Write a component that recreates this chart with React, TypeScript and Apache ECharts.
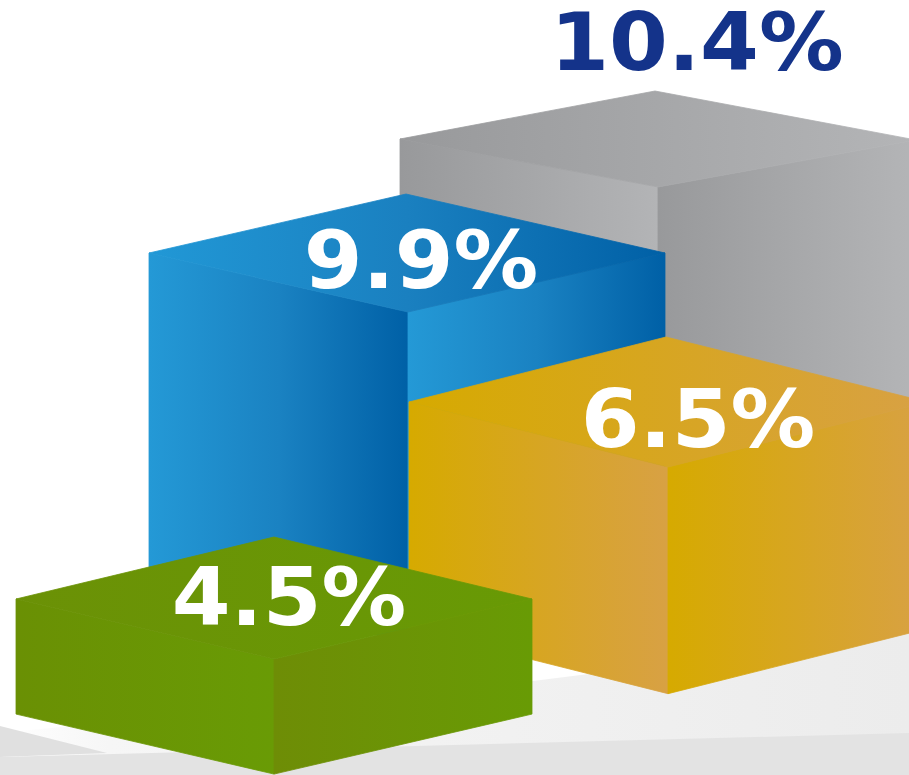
import React, { useEffect, useRef } from "react";
import * as echarts from "echarts";

// ---- data ----
const boxNames = ["Grey", "Blue", "Gold", "Green"];
const boxValues = [10.4, 9.9, 6.5, 4.5];

// ---- drawing layout, separate from the data ----
const W = 909;
const H = 775;
const Y_MAX = 20; // value axis spans the whole canvas height
const FONT = '"DejaVu Sans", Verdana, sans-serif';

const grad = (stops: [number, string][]) =>
  new echarts.graphic.LinearGradient(
    0, 0, 1, 0,
    stops.map(([offset, color]) => ({ offset, color }))
  );

type Look = {
  back: number[]; left: number[]; front: number[]; right: number[];
  stretch: number; // px height of a box per axis px, the boxes are not to scale in the reference
  labelX: number; labelY: number; labelColor: string;
  top: [number, string][]; leftFace: [number, string][]; rightFace: [number, string][];
};

const looks: Look[] = [
  {
    back: [655, 91], left: [400, 139], front: [658, 187], right: [916, 140],
    stretch: 0.8, labelX: 697, labelY: 83, labelColor: "#14338a",
    top: [[0, "#98999b"], [1, "#b4b5b7"]],
    leftFace: [[0, "#98999b"], [1, "#b3b4b6"]],
    rightFace: [[0, "#98999b"], [1, "#b4b5b7"]],
  },
  {
    back: [406, 194], left: [149, 253], front: [408, 312], right: [665, 253],
    stretch: 0.86, labelX: 421, labelY: 301, labelColor: "#ffffff",
    top: [[0, "#2198d6"], [0.5, "#1a80c0"], [1, "#0060a6"]],
    leftFace: [[0, "#2499d6"], [0.5, "#1a82c2"], [1, "#0060a6"]],
    rightFace: [[0, "#2499d6"], [0.5, "#1a82c2"], [1, "#0060a6"]],
  },
  {
    back: [666, 337], left: [409, 402], front: [668, 467], right: [927, 402],
    stretch: 0.9, labelX: 698, labelY: 460, labelColor: "#ffffff",
    top: [[0, "#d6aa00"], [1, "#d8a144"]],
    leftFace: [[0, "#d6aa00"], [1, "#d8a144"]],
    rightFace: [[0, "#d6aa00"], [1, "#d8a144"]],
  },
  {
    back: [274, 537], left: [16, 599], front: [274, 659], right: [532, 599],
    stretch: 0.66, labelX: 289, labelY: 638, labelColor: "#ffffff",
    top: [[0, "#6b9106"], [1, "#689a05"]],
    leftFace: [[0, "#6a9004"], [1, "#699b05"]],
    rightFace: [[0, "#6e8d06"], [1, "#689b05"]],
  },
];

const renderBox = (params: any, api: any) => {
  const look = looks[params.dataIndex];
  const value = api.value(1);
  const h = api.size([0, value])[1] * look.stretch;
  const { back, left, front, right } = look;
  const poly = (points: number[][], stops: [number, string][]) => ({
    type: "polygon",
    shape: { points },
    style: { fill: grad(stops), stroke: grad(stops), lineWidth: 0.8 },
  });
  return {
    type: "group",
    children: [
      poly(
        [left, front, [front[0], front[1] + h], [left[0], left[1] + h]],
        look.leftFace
      ),
      poly(
        [front, right, [right[0], right[1] + h], [front[0], front[1] + h]],
        look.rightFace
      ),
      poly([back, right, front, left], look.top),
      {
        type: "text",
        x: look.labelX,
        y: look.labelY,
        scaleX: 1.045,
        style: {
          text: `${value.toFixed(1)}%`,
          x: 0,
          y: 0,
          fill: look.labelColor,
          font: `bold 81px ${FONT}`,
          textAlign: "center",
          textVerticalAlign: "bottom",
          verticalAlign: "bottom",
        },
        z2: 10,
      },
    ],
  };
};

export default function App() {
  const ref = useRef<HTMLDivElement>(null);
  useEffect(() => {
    document.body.style.margin = "0";
    const chart = echarts.init(ref.current!, undefined, { renderer: "svg" });
    chart.setOption({
      animation: false,
      backgroundColor: "#ffffff",
      grid: { left: 0, right: 0, top: 0, bottom: 0 },
      xAxis: { type: "category", data: boxNames, show: false },
      yAxis: { type: "value", min: 0, max: Y_MAX, show: false },
      graphic: [
        {
          type: "polygon",
          z: 0,
          shape: { points: [[20, 731], [533, 681], [700, 660], [909, 620], [909, H], [0, H]] },
          style: {
            fill: new echarts.graphic.LinearGradient(0, 0, 1, 0, [
              { offset: 0, color: "#ffffff" },
              { offset: 0.12, color: "#f6f6f6" },
              { offset: 1, color: "#ececec" },
            ]),
          },
        },
        {
          type: "polygon",
          z: 1,
          shape: { points: [[0, 726], [107, 753], [0, 757]] },
          style: { fill: "#e0e0e0" },
        },
        {
          type: "polygon",
          z: 1,
          shape: { points: [[0, 757], [W, 733], [W, H], [0, H]] },
          style: { fill: "#e3e3e3" },
        },
      ],
      series: [
        {
          type: "custom",
          z: 5,
          silent: true,
          coordinateSystem: "cartesian2d",
          clip: false,
          renderItem: renderBox,
          data: boxValues.map((v, i) => [boxNames[i], v]),
        },
      ],
    });
    return () => chart.dispose();
  }, []);
  return <div ref={ref} style={{ width: W, height: H, overflow: "hidden" }} />;
}
